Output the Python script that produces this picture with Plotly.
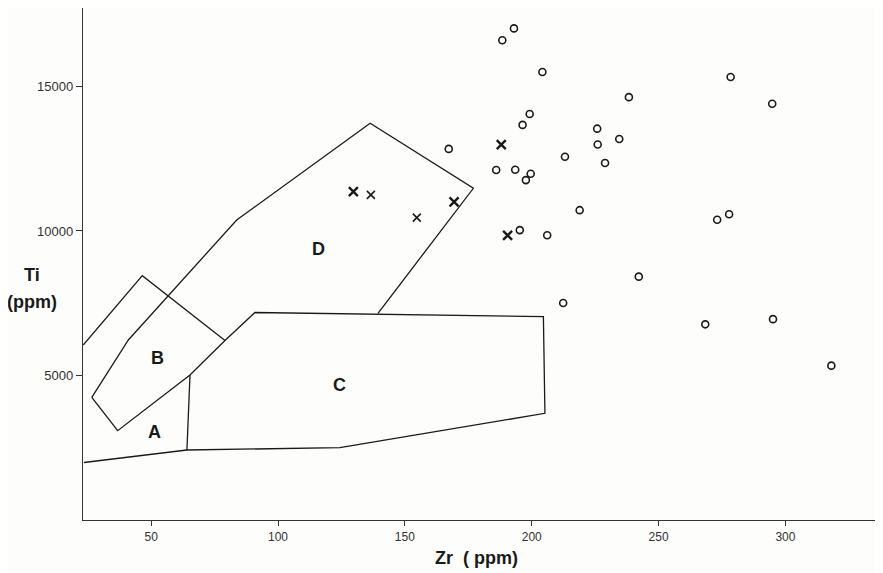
import plotly.graph_objects as go

# ---- data ----
circle_zr = [193.0, 188.4, 204.2, 278.4, 238.3, 294.8, 199.2, 196.4, 225.8, 234.5,
             167.3, 226.0, 213.1, 228.9, 186.0, 193.5, 199.6, 197.7, 218.9, 277.8,
             273.1, 195.3, 206.1, 242.2, 212.4, 268.4, 295.1, 318.1]
circle_ti = [17010, 16600, 15500, 15330, 14630, 14400, 14050, 13670, 13540, 13180,
             12840, 12990, 12570, 12350, 12110, 12120, 11980, 11760, 10720, 10580,
             10390, 10030, 9850, 8420, 7510, 6770, 6950, 5340]

cross_bold_zr = [129.7, 169.4, 188.0, 190.5]
cross_bold_ti = [11360, 11010, 12990, 9850]
cross_thin_zr = [136.6, 154.7]
cross_thin_ti = [11250, 10460]

# field boundaries (Zr, Ti)
morb_zr = [26.6, 41.0, 83.7, 136.3, 177.0, 139.4]
morb_ti = [4245, 6228, 10380, 13726, 11477, 7152]
lower_zr = [26.6, 36.8, 65.3, 79.1, 90.9, 204.6, 205.2, 124.4, 64.1, 23.5]
lower_ti = [4245, 3090, 5017, 6211, 7180, 7034, 3692, 2502, 2422, 1990]
a_side_zr = [65.3, 64.1]
a_side_ti = [5017, 2422]
iat_zr = [23.2, 46.5, 79.1]
iat_ti = [6055, 8453, 6211]

field_labels = ["A", "B", "C", "D"]
field_zr = [51.5, 52.4, 124.4, 115.9]
field_ti = [3055, 5595, 4671, 9366]

x_ticks = [50, 100, 150, 200, 250, 300]
y_ticks = [5000, 10000, 15000]

LC = "#1a1a1a"
FONT = "Liberation Sans, Arial"
fig = go.Figure()
for xs, ys in [(morb_zr, morb_ti), (lower_zr, lower_ti), (a_side_zr, a_side_ti), (iat_zr, iat_ti)]:
    fig.add_trace(go.Scatter(x=xs, y=ys, mode="lines", line=dict(color=LC, width=1.3),
                             hoverinfo="skip", showlegend=False))

fig.add_trace(go.Scatter(x=circle_zr, y=circle_ti, mode="markers", showlegend=False,
                         marker=dict(symbol="circle-open", size=7, color=LC, line=dict(width=1.6, color=LC))))
fig.add_trace(go.Scatter(x=cross_bold_zr, y=cross_bold_ti, mode="markers", showlegend=False,
                         marker=dict(symbol="x-thin", size=9, color=LC, line=dict(width=2.4, color=LC))))
fig.add_trace(go.Scatter(x=cross_thin_zr, y=cross_thin_ti, mode="markers", showlegend=False,
                         marker=dict(symbol="x-thin", size=8, color=LC, line=dict(width=1.6, color=LC))))

for lab, zx, ty in zip(field_labels, field_zr, field_ti):
    fig.add_annotation(x=zx, y=ty, text="<b>%s</b>" % lab, showarrow=False,
                       xanchor="center", yanchor="middle",
                       font=dict(family=FONT, size=18, color=LC))

for txt, px, py in [("<b>Ti</b>", -0.064, 0.4785), ("<b>(ppm)</b>", -0.064, 0.4264),
                    ("<b>Zr  ( ppm)</b>", 0.492, -0.0748)]:
    fig.add_annotation(xref="paper", yref="paper", x=px, y=py, text=txt, showarrow=False,
                       xanchor="center", yanchor="middle",
                       font=dict(family=FONT, size=18, color=LC))

fig.update_xaxes(range=[23.13, 338.46], tickvals=x_ticks, tickformat="d", showgrid=False, zeroline=False,
                 showline=True, linecolor="#333", linewidth=1.3, ticks="outside", ticklen=5,
                 tickcolor="#333", tickfont=dict(family=FONT, size=12, color="#333"))
fig.update_yaxes(range=[0, 17715], tickvals=y_ticks, tickformat="d", showgrid=False, zeroline=False,
                 showline=True, linecolor="#333", linewidth=1.3, ticks="outside", ticklen=6,
                 tickcolor="#333", tickfont=dict(family=FONT, size=13, color="#333"))

# the page body adds an 8px offset, so the figure is 8px smaller on each side
fig.update_layout(width=875, height=565, margin=dict(l=75, r=0, t=0, b=53),
                  paper_bgcolor="#fdfdfb", plot_bgcolor="#fdfdfb")
fig.write_html("out.html")
